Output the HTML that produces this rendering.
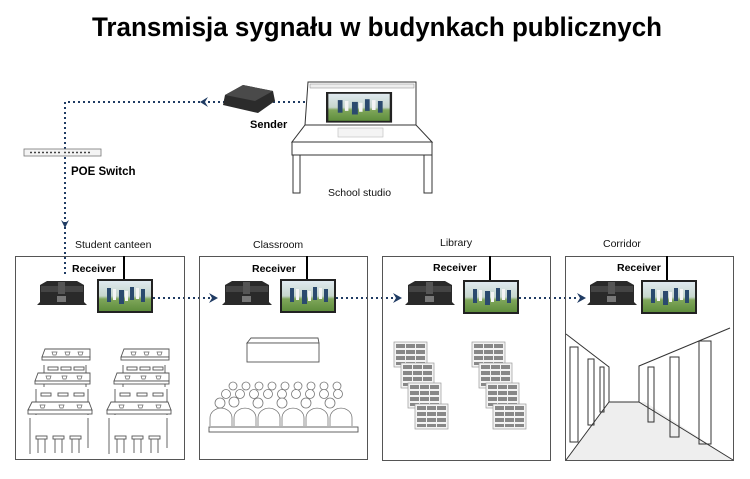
<!DOCTYPE html>
<html><head><meta charset="utf-8"><style>
html,body{margin:0;padding:0;background:#fff}
svg{display:block}
text{font-family:"Liberation Sans",sans-serif}
</style></head><body>
<svg width="750" height="479" viewBox="0 0 750 479" xmlns="http://www.w3.org/2000/svg">
<defs>
<linearGradient id="sky" x1="0" y1="0" x2="0" y2="1">
<stop offset="0" stop-color="#dfe9ef"/><stop offset="0.5" stop-color="#c6d6cc"/><stop offset="0.6" stop-color="#7fa65a"/><stop offset="1" stop-color="#5e8d3c"/></linearGradient>
<g id="rx">
<path d="M3,4 L10,0 L40,0 L47,4 L47,21 L50,24 L0,24 L3,21 Z" fill="#2a2a2a"/>
<rect x="4" y="5" width="42" height="6" fill="#444"/>
<rect x="21" y="1" width="7" height="12" fill="#555"/>
<rect x="20" y="15" width="9" height="6" fill="#777"/>
</g>
<g id="mon">
<rect x="0" y="0" width="56" height="34" fill="#222"/>
<rect x="2" y="2" width="52" height="30" fill="url(#sky)"/>
<g fill="#2b4a6e"><rect x="10" y="9" width="4" height="14"/><rect x="22" y="11" width="5" height="14"/><rect x="33" y="8" width="4" height="13"/><rect x="44" y="10" width="4" height="13"/></g>
<g fill="#f4f4f4"><rect x="16" y="10" width="3" height="11"/><rect x="28" y="12" width="3" height="10"/><rect x="39" y="9" width="3" height="11"/></g>
</g>
<g id="cup" fill="none" stroke="#666" stroke-width="0.7"><path d="M0,0 h5 l-1,3 h-3 z"/></g>
<g id="shelf">
<rect x="0" y="0" width="33" height="25" fill="#f3f3f3" stroke="#999" stroke-width="0.7"/>
<g fill="#888">
<rect x="2" y="2" width="9" height="4"/><rect x="12" y="2" width="9" height="4"/><rect x="22" y="2" width="9" height="4"/>
<rect x="2" y="8" width="9" height="4"/><rect x="12" y="8" width="9" height="4"/><rect x="22" y="8" width="9" height="4"/>
<rect x="2" y="14" width="9" height="4"/><rect x="12" y="14" width="9" height="4"/><rect x="22" y="14" width="9" height="4"/>
<rect x="2" y="20" width="9" height="3"/><rect x="12" y="20" width="9" height="3"/><rect x="22" y="20" width="9" height="3"/>
</g></g>
<g id="shelves">
<use href="#shelf" x="0" y="0"/><use href="#shelf" x="7" y="21"/><use href="#shelf" x="14" y="41"/><use href="#shelf" x="21" y="62"/>
</g>
<g id="tables" fill="#fff" stroke="#555" stroke-width="0.9">
<path d="M18,16 v22 M60,16 v22 M10,40 v26 M62,40 v26 M4,69 v36 M62,69 v30"/>
<path d="M16,8 L19,0 L64,0 L64,8 Z"/><rect x="16" y="8" width="48" height="3"/>
<path d="M9,32 L12,24 L64,24 L64,32 Z"/><rect x="9" y="32" width="55" height="3"/>
<path d="M2,61 L6,53 L63,53 L66,61 Z"/><rect x="2" y="61" width="64" height="4"/>
<rect x="22" y="18" width="10" height="3"/><rect x="35" y="18" width="10" height="3"/><rect x="48" y="18" width="10" height="3"/>
<rect x="15" y="44" width="10" height="3"/><rect x="32" y="44" width="10" height="3"/><rect x="48" y="44" width="10" height="3"/>
<rect x="10" y="87" width="11" height="3"/><rect x="27" y="87" width="11" height="3"/><rect x="44" y="87" width="11" height="3"/>
<path d="M12,90 v14 M19,90 v14 M29,90 v14 M36,90 v14 M46,90 v14 M53,90 v14"/>
<use href="#cup" x="26" y="3"/><use href="#cup" x="39" y="3"/><use href="#cup" x="52" y="3"/>
<use href="#cup" x="20" y="27"/><use href="#cup" x="36" y="27"/><use href="#cup" x="51" y="27"/>
<use href="#cup" x="14" y="56"/><use href="#cup" x="33" y="56"/><use href="#cup" x="51" y="56"/>
</g>
</defs>

<text x="92" y="36" font-size="27" font-weight="bold" textLength="570" lengthAdjust="spacingAndGlyphs" fill="#000">Transmisja sygnału w budynkach publicznych</text>

<g stroke="#1f3b63" stroke-width="2" stroke-dasharray="2,3" fill="none">
<path d="M305,102 H65 V275"/>
<path d="M153,298 H210 M336,298 H393 M519,298 H577"/>
</g>
<g fill="#1f3b63">
<path d="M200,102 l8,-5 l-3,5 l3,5 z"/>
<path d="M65,228 l-4,-8 l4,3 l4,-3 z"/>
<path d="M218,298 l-9,-5 l3,5 l-3,5 z"/>
<path d="M402,298 l-9,-5 l3,5 l-3,5 z"/>
<path d="M586,298 l-9,-5 l3,5 l-3,5 z"/>
</g>

<g transform="translate(223,85)">
<path d="M2,10 L20,0 L50,6 L52,16 L35,28 L0,20 Z" fill="#2b2b2b"/>
<path d="M2,10 L20,0 L50,6 L32,16 Z" fill="#4a4a4a"/>
</g>
<text x="250" y="128" font-size="11" font-weight="bold">Sender</text>

<rect x="24" y="149" width="77" height="7" fill="#f4f4f4" stroke="#777" stroke-width="0.8"/>
<path d="M30,152.5 h30 M64,152.5 h28" stroke="#444" stroke-width="1.5" stroke-dasharray="2,2"/>
<text x="71" y="175" font-size="11.5" font-weight="bold">POE Switch</text>

<g fill="#fff" stroke="#333" stroke-width="1">
<path d="M308,82 H416 V125 H305 Z"/>
<path d="M305,125 H416 L432,142 H292 Z"/>
<rect x="292" y="142" width="140" height="13"/>
<rect x="293" y="155" width="7" height="38"/>
<rect x="424" y="155" width="8" height="38"/>
<rect x="310" y="84" width="104" height="4" fill="#eee" stroke="#888" stroke-width="0.5"/>
</g>
<use href="#mon" transform="translate(326,92) scale(1.18,0.9)"/>
<rect x="338" y="128" width="45" height="9" fill="#f4f4f4" stroke="#bbb" stroke-width="0.6"/>
<text x="328" y="196" font-size="10.5" fill="#111">School studio</text>

<g font-size="10.5" fill="#111">
<text x="75" y="248">Student canteen</text>
<text x="253" y="248">Classroom</text>
<text x="440" y="246">Library</text>
<text x="603" y="247">Corridor</text>
</g>

<g fill="none" stroke="#555" stroke-width="1">
<rect x="15.5" y="256.5" width="169" height="203"/>
<rect x="199.5" y="256.5" width="168" height="203"/>
<rect x="382.5" y="256.5" width="168" height="204"/>
<rect x="565.5" y="256.5" width="168" height="204"/>
</g>

<g stroke="#000" stroke-width="2">
<path d="M124,256 V280 M307,256 V280 M490,256 V281 M667,256 V281"/>
</g>
<g font-size="10.5" font-weight="bold">
<text x="72" y="272">Receiver</text>
<text x="252" y="272">Receiver</text>
<text x="433" y="271">Receiver</text>
<text x="617" y="271">Receiver</text>
</g>
<use href="#rx" x="37" y="281"/><use href="#mon" x="97" y="279"/>
<use href="#rx" x="222" y="281"/><use href="#mon" x="280" y="279"/>
<use href="#rx" x="405" y="281"/><use href="#mon" x="463" y="280"/>
<use href="#rx" x="587" y="281"/><use href="#mon" x="641" y="280"/>

<use href="#tables" x="26" y="349"/>
<use href="#tables" x="105" y="349"/>

<g fill="#fff" stroke="#555" stroke-width="0.9">
<path d="M247,343 L251,338 L318,338 L319,343 Z"/>
<rect x="247" y="343" width="72" height="19"/>
<rect x="209" y="427" width="149" height="5"/>
</g>
<g fill="#fff" stroke="#777" stroke-width="0.8">
<circle cx="233" cy="386" r="4"/><circle cx="246" cy="386" r="4"/><circle cx="259" cy="386" r="4"/><circle cx="272" cy="386" r="4"/><circle cx="285" cy="386" r="4"/><circle cx="298" cy="386" r="4"/><circle cx="311" cy="386" r="4"/><circle cx="324" cy="386" r="4"/><circle cx="337" cy="386" r="4"/>
<circle cx="226" cy="394" r="4.5"/><circle cx="240" cy="394" r="4.5"/><circle cx="254" cy="394" r="4.5"/><circle cx="268" cy="394" r="4.5"/><circle cx="282" cy="394" r="4.5"/><circle cx="296" cy="394" r="4.5"/><circle cx="310" cy="394" r="4.5"/><circle cx="324" cy="394" r="4.5"/><circle cx="338" cy="394" r="4.5"/>
<circle cx="220" cy="403" r="5"/><circle cx="234" cy="402" r="5"/><circle cx="258" cy="403" r="5"/><circle cx="282" cy="403" r="5"/><circle cx="306" cy="403" r="5"/><circle cx="330" cy="403" r="5"/>
<path d="M210,426 v-8 a10,9 0 0 1 22,0 v8 M234,426 v-8 a10,9 0 0 1 22,0 v8 M258,426 v-8 a10,9 0 0 1 22,0 v8 M282,426 v-8 a10,9 0 0 1 22,0 v8 M306,426 v-8 a10,9 0 0 1 22,0 v8 M330,426 v-8 a10,9 0 0 1 22,0 v8"/>
</g>

<use href="#shelves" x="394" y="342"/>
<use href="#shelves" x="472" y="342"/>

<polygon points="566,460 609,402 645,402 733,460" fill="#eeeeee"/>
<g fill="none" stroke="#333" stroke-width="1">
<path d="M566,334 L609,367 V402 L566,460"/>
<path d="M730,328 L639,366 V402 L733,460"/>
<path d="M609,402 H639"/>
<rect x="570" y="347" width="8" height="95"/>
<rect x="588" y="359" width="6" height="66"/>
<rect x="600" y="367" width="4" height="45"/>
<rect x="648" y="367" width="6" height="55"/>
<rect x="670" y="357" width="9" height="80"/>
<rect x="699" y="341" width="12" height="103"/>
</g>
</svg>
</body></html>
